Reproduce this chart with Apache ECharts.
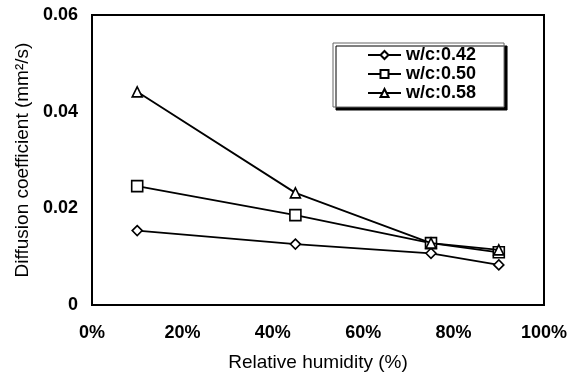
<!DOCTYPE html>
<html><head><meta charset="utf-8">
<script src="https://cdn.jsdelivr.net/npm/echarts@6/dist/echarts.min.js"></script>
<style>html,body{margin:0;padding:0;background:#fff}#c{width:579px;height:378px}</style>
</head><body><div id="c"></div>
<script>
const humidity = [10, 45, 75, 90];
const wc042 = [0.0154, 0.0126, 0.0107, 0.0083];
const wc050 = [0.0246, 0.0186, 0.0128, 0.0109];
const wc058 = [0.0441, 0.0232, 0.0128, 0.0114];
const seriesNames = ['w/c:0.42', 'w/c:0.50', 'w/c:0.58'];
const symbols = ['diamond', 'rect', 'triangle'];
const symbolSizes = [10, 11, 10];
const valuesList = [wc042, wc050, wc058];

const chart = echarts.init(document.getElementById('c'), null, {renderer: 'canvas'});
const font = 'Liberation Sans, Arial, sans-serif';
chart.setOption({
  animation: false,
  backgroundColor: '#fff',
  grid: {left: 92, top: 15, right: 35, bottom: 73, show: true, borderColor: '#000', borderWidth: 2},
  xAxis: {
    type: 'value', min: 0, max: 100, interval: 20,
    name: 'Relative humidity (%)', nameLocation: 'middle', nameGap: 48,
    nameTextStyle: {fontFamily: font, fontSize: 19, color: '#000'},
    axisLine: {show: true, lineStyle: {color: '#000', width: 2}},
    axisTick: {show: false},
    splitLine: {show: false},
    axisLabel: {formatter: v => v + '%', fontFamily: font, fontWeight: 'bold', fontSize: 18, color: '#000', margin: 19}
  },
  yAxis: {
    type: 'value', min: 0, max: 0.06, interval: 0.02,
    name: 'Diffusion coefficient (mm²/s)', nameLocation: 'middle', nameGap: 55,
    nameTextStyle: {fontFamily: font, fontSize: 19, color: '#000'},
    axisLine: {show: true, lineStyle: {color: '#000', width: 2}},
    axisTick: {show: false},
    splitLine: {show: false},
    axisLabel: {formatter: v => v === 0 ? '0' : v.toFixed(2), fontFamily: font, fontWeight: 'bold', fontSize: 18, color: '#000', margin: 14}
  },
  legend: {
    orient: 'vertical', left: 333, top: 43,
    backgroundColor: '#fff', borderColor: '#666', borderWidth: 1,
    shadowColor: '#000', shadowOffsetX: 3, shadowOffsetY: 3, shadowBlur: 0,
    padding: [3, 28, 5, 34], itemGap: 1, itemWidth: 33, itemHeight: 10,
    textStyle: {fontFamily: font, fontWeight: 'bold', fontSize: 18, color: '#000'},
    data: seriesNames
  },
  series: seriesNames.map((n, i) => ({
    name: n, type: 'line',
    data: humidity.map((h, j) => [h, valuesList[i][j]]),
    symbol: symbols[i], symbolSize: symbolSizes[i],
    itemStyle: {color: '#fff', borderColor: '#000', borderWidth: 1.6},
    lineStyle: {color: '#000', width: 1.8},
    z: 2 + i
  }))
});
</script></body></html>
